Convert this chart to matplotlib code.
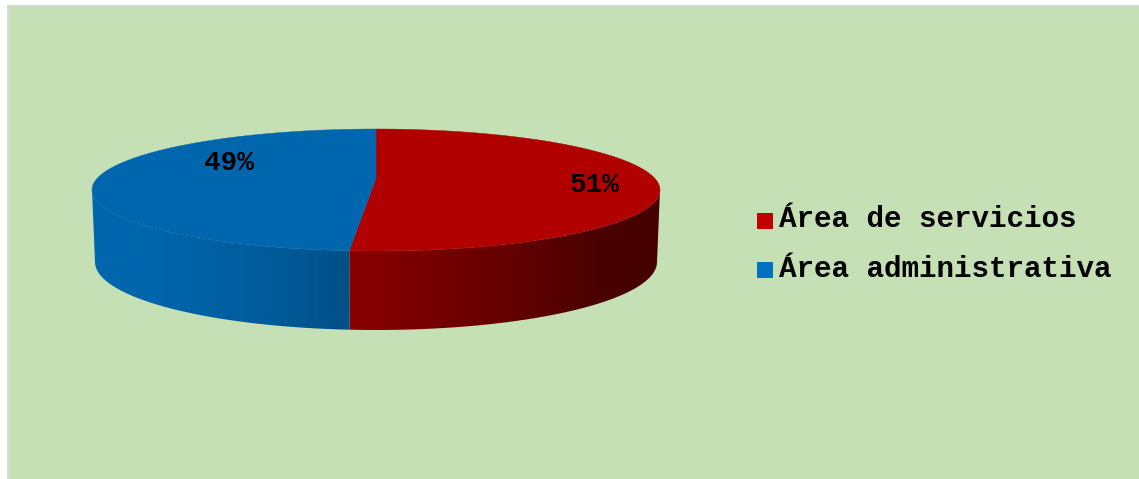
import numpy as np
import matplotlib
matplotlib.use("Agg")
import matplotlib.pyplot as plt
from matplotlib.patches import Patch, Rectangle, Polygon
from matplotlib.legend_handler import HandlerPatch

categories = ["Área de servicios", "Área administrativa"]
shares = [51.5, 48.5]
share_labels = ["51%", "49%"]

TOP_COLORS = ["#B00000", "#0066AE"]
LEGEND_COLORS = ["#C00000", "#0070C0"]
BG = "#C5E0B4"
W, H = 1139, 479

# pseudo-3D geometry, in pixels
CX, TOP_CY, TOP_RX, TOP_RY = 376.0, 190.0, 284.0, 61.0
APEX_Y = 178.0
BOT_CY, BOT_RX, BOT_RY = 262.0, 281.0, 68.0

# wall shade stops: (x pixel, colour) per slice
WALL_STOPS = [
    [(349, (0x8A, 0, 0)), (500, (0x66, 0, 0)), (600, (0x4A, 0, 0)), (660, (0x45, 0, 0))],
    [(92, (0, 0x66, 0xAE)), (150, (0, 0x66, 0xAC)), (260, (0, 0x5C, 0x9C)), (349, (0, 0x50, 0x88))],
]


def square(legend, orig_handle, xdescent, ydescent, width, height, fontsize):
    return Rectangle((0, -0.8), 11.5, 11.2)


fig = plt.figure(figsize=(W / 100, H / 100), dpi=100, facecolor="white")
ax = fig.add_axes([0, 0, 1, 1])
ax.set_xlim(0, W)
ax.set_ylim(H, 0)
ax.axis("off")

ax.add_patch(Rectangle((7, 4.5), W, H, fc="#D9D9D9", ec="none", zorder=0))
ax.add_patch(Rectangle((9, 6), W, H, fc=BG, ec="none", zorder=0.5))

fractions = np.array(shares) / sum(shares)
edges = -90 + 360 * np.concatenate([[0], np.cumsum(fractions)])

for i in range(len(shares)):
    a0, a1 = edges[i], edges[i + 1]
    # side wall, only the front half (0..180 degrees) is visible
    lo, hi = max(a0, 0), min(a1, 180)
    r = np.radians(np.linspace(lo, hi, 300))
    xt = CX + TOP_RX * np.cos(r)
    yt = TOP_CY + TOP_RY * np.sin(r)
    xb = CX + BOT_RX * np.cos(r)
    yb = BOT_CY + BOT_RY * np.sin(r)
    wall = Polygon(np.c_[np.r_[xt, xb[::-1]], np.r_[yt, yb[::-1]]], closed=True,
                   transform=ax.transData, fc="none", ec="none")
    ax.add_patch(wall)
    x0, x1 = min(xt.min(), xb.min()) - 1, max(xt.max(), xb.max()) + 1
    xs = np.arange(x0, x1, 1.0)
    stops = WALL_STOPS[i]
    sx = [s[0] for s in stops]
    grad = np.stack([np.interp(xs, sx, [s[1][k] for s in stops]) / 255 for k in range(3)], axis=-1)[None, :, :]
    im = ax.imshow(grad, extent=(x0, x1, yb.max() + 1, yt.min() - 1), aspect="auto",
                   interpolation="bilinear", zorder=2)
    im.set_clip_path(wall)
    # top face
    t = np.radians(np.linspace(a0, a1, 300))
    px = np.r_[CX, CX + TOP_RX * np.cos(t)]
    py = np.r_[APEX_Y, TOP_CY + TOP_RY * np.sin(t)]
    ax.fill(px, py, fc=TOP_COLORS[i], ec=TOP_COLORS[i], lw=0.3, zorder=3)

ax.set_xlim(0, W)
ax.set_ylim(H, 0)

FONT = "Liberation Mono"
ax.text(595, 185, share_labels[0], family=FONT, weight="bold", fontsize=20,
        ha="center", va="center", color="black", zorder=4)
ax.text(229, 163, share_labels[1], family=FONT, weight="bold", fontsize=20,
        ha="center", va="center", color="black", zorder=4)

handles = [Patch(fc=c, ec="none") for c in LEGEND_COLORS]
ax.legend(handles, categories, loc="center left", bbox_to_anchor=(757, 244),
          bbox_transform=ax.transData, frameon=False, borderpad=0, borderaxespad=0,
          prop={"family": FONT, "weight": "bold", "size": 21.1},
          handlelength=0.55, handleheight=0.55, handletextpad=0.2, labelspacing=0.72,
          handler_map={Patch: HandlerPatch(patch_func=square)})

fig.savefig("out.png", dpi=100, facecolor="white")
